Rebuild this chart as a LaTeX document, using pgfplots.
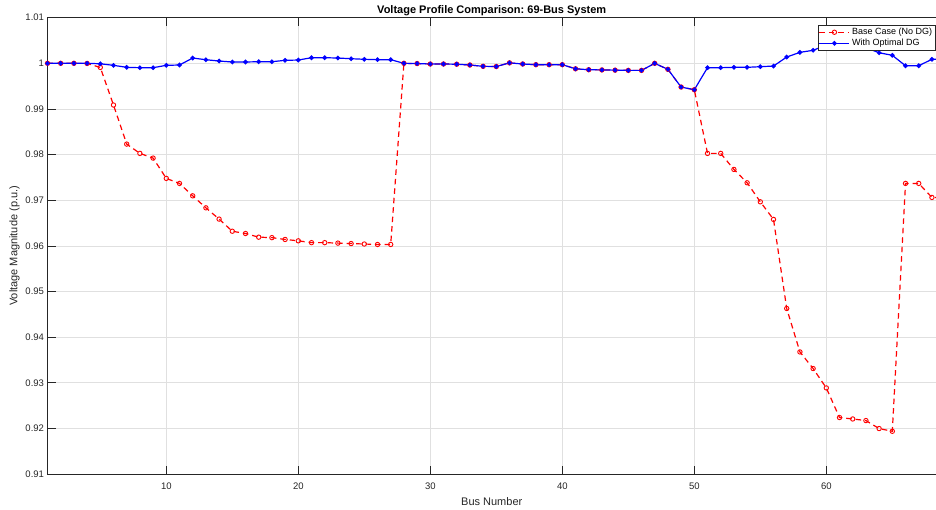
\documentclass[border=0pt]{standalone}
\usepackage{fontspec}
\setmainfont{Liberation Sans}
\usepackage{pgfplots}
\usepackage{pgfplotstable}
\pgfplotsset{compat=1.18}
\definecolor{axgray}{gray}{0.15}
\definecolor{gridgray}{gray}{0.88}
\frenchspacing

% bus, base case (no DG), with optimal DG
\pgfplotstableread{
bus base dg
1 1.00000 1.00000
2 1.00000 1.00000
3 1.00000 1.00000
4 0.99997 1.00000
5 0.99910 0.99990
6 0.99086 0.99956
7 0.98230 0.99912
8 0.98026 0.99904
9 0.97923 0.99904
10 0.97478 0.99956
11 0.97368 0.99963
12 0.97096 1.00116
13 0.96833 1.00079
14 0.96586 1.00050
15 0.96320 1.00029
16 0.96270 1.00029
17 0.96190 1.00035
18 0.96180 1.00035
19 0.96140 1.00066
20 0.96110 1.00072
21 0.96070 1.00123
22 0.96070 1.00123
23 0.96060 1.00116
24 0.96050 1.00101
25 0.96040 1.00088
26 0.96030 1.00080
27 0.96030 1.00080
28 1.00000 1.00000
29 0.99995 0.99995
30 0.99985 0.99985
31 0.99985 0.99985
32 0.99980 0.99980
33 0.99963 0.99963
34 0.99934 0.99934
35 0.99930 0.99930
36 1.00010 1.00010
37 0.99985 0.99985
38 0.99970 0.99970
39 0.99970 0.99970
40 0.99970 0.99970
41 0.99880 0.99880
42 0.99860 0.99860
43 0.99855 0.99855
44 0.99850 0.99850
45 0.99845 0.99845
46 0.99845 0.99845
47 1.00000 1.00000
48 0.99868 0.99868
49 0.99480 0.99480
50 0.99421 0.99421
51 0.98026 0.99904
52 0.98026 0.99904
53 0.97675 0.99912
54 0.97382 0.99912
55 0.96965 0.99926
56 0.96579 0.99940
57 0.94627 1.00138
58 0.93675 1.00240
59 0.93311 1.00285
60 0.92886 1.00400
61 0.92237 1.00420
62 0.92206 1.00400
63 0.92171 1.00340
64 0.91996 1.00232
65 0.91936 1.00175
66 0.97368 0.99947
67 0.97368 0.99947
68 0.97061 1.00088
69 0.97058 1.00090
}\voltdata

\begin{document}
\begin{tikzpicture}
\useasboundingbox (-47.5pt,-36pt) rectangle (888.5pt,474pt);
\begin{axis}[
    at={(0,0)}, anchor=south west,
    scale only axis, width=888.5pt, height=456.3pt,
    xmin=1, xmax=68.31, ymin=0.91, ymax=1.01,
    axis x line=box, axis y line=left,
    axis line style={-, axgray, line width=0.6pt},
    tick align=inside, major tick length=8pt,
    tick style={axgray, line width=0.5pt},
    xtick={10,20,30,40,50,60},
    ytick={0.91,0.92,0.93,0.94,0.95,0.96,0.97,0.98,0.99,1,1.01},
    yticklabel style={/pgf/number format/fixed, /pgf/number format/precision=2},
    xticklabel style={yshift=-5pt},
    /pgf/number format/assume math mode=true,
    ticklabel style={font=\fontsize{9.5}{11}\selectfont, text=axgray},
    grid=major, major grid style={gridgray, line width=0.5pt},
    xlabel={Bus Number}, ylabel={Voltage Magnitude (p.u.)},
    label style={font=\fontsize{11}{13}\selectfont, text=axgray},
    xlabel style={yshift=-1pt},
    ylabel style={yshift=-1pt},
    title={Voltage Profile Comparison: 69-Bus System},
    title style={font=\fontsize{11}{13}\selectfont\bfseries, yshift=-8pt},
    legend style={at={(1,1)}, anchor=north east, xshift=-0.7pt, yshift=-7.3pt,
        font=\fontsize{9}{10}\selectfont, draw=axgray, line width=0.5pt,
        inner sep=1pt, row sep=-1pt},
    legend cell align=left,
    legend image code/.code={\draw[mark repeat=2, mark phase=2, #1]
        plot coordinates {(0pt,0pt) (15pt,0pt) (30pt,0pt)};},
]
\addplot[red, line width=1.2pt, dash pattern=on 5.5pt off 4pt,
    mark=o, mark size=2.2pt, mark options={solid, line width=0.9pt}]
    table[x=bus, y=base] {\voltdata};
\addlegendentry{Base Case (No DG)}
\addplot[blue, line width=1.2pt, mark=*, mark size=1.7pt]
    table[x=bus, y=dg] {\voltdata};
\addlegendentry{With Optimal DG}
\end{axis}
\end{tikzpicture}
\end{document}
